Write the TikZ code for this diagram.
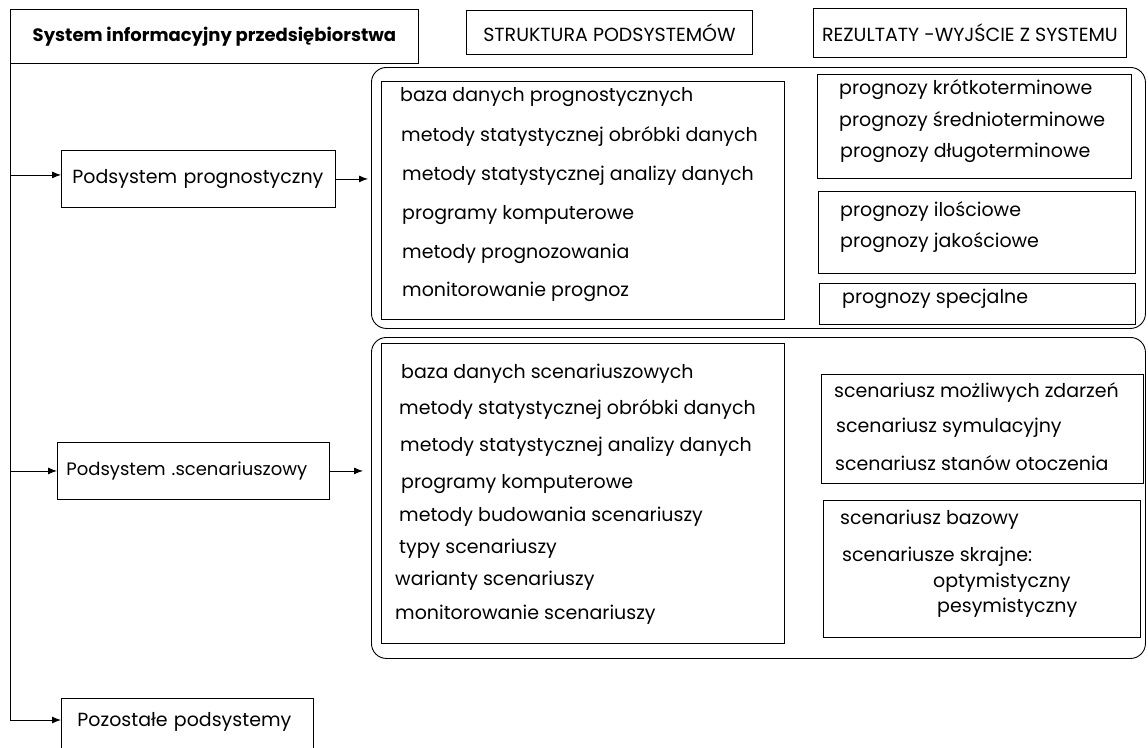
\documentclass[tikz,border=0pt]{standalone}
\usepackage{fontspec}
\setmainfont{Poppins}
\usepackage{tikz}
\usetikzlibrary{arrows.meta}
\tikzstyle{box} = [rectangle, draw=black, line width=0.9pt, anchor=north west, inner sep=0pt, font=\fontsize{19}{22}\selectfont]
\tikzstyle{subsystem} = [box, align=left, inner ysep=0pt]
\tikzstyle{group} = [rectangle, rounded corners=15pt, draw=black, line width=0.9pt, anchor=north west, inner sep=0pt]
\tikzstyle{item} = [anchor=west, inner sep=0pt, font=\fontsize{19}{22}\selectfont]
\tikzstyle{link} = [-{Latex[length=9pt, width=7pt]}, line width=0.9pt]

\begin{document}
\begin{tikzpicture}[x=1pt, y=-1pt]
\clip (0,0) rectangle (1148,747);
\fill[white] (0,0) rectangle (1148,747);

\node (title) [box, minimum width=408pt, minimum height=54pt, font=\fontsize{18}{21}\selectfont\bfseries] at (10,9) {System informacyjny przedsiębiorstwa};
\node (struktura) [box, minimum width=286pt, minimum height=44pt] at (466,10) {STRUKTURA PODSYSTEMÓW};
\node (rezultaty) [box, minimum width=313pt, minimum height=49pt] at (813,8) {REZULTATY -WYJŚCIE Z SYSTEMU};

\node (prog) [subsystem, text width=252pt, inner xsep=11pt, minimum height=57pt] at (61,150) {Podsystem prognostyczny};
\node (scen) [subsystem, text width=254pt, inner xsep=9pt, minimum height=57pt, font=\fontsize{18}{21}\selectfont] at (57,442) {\mbox{Podsystem .scenariuszowy}};
\node (pozostale) [subsystem, text width=220pt, inner xsep=16pt, text height=20pt, text depth=40pt, inner ysep=8pt] at (61,698) {Pozostałe podsystemy};

\node (progGroup) [group, minimum width=774pt, minimum height=261pt] at (371,67) {};
\node (progList) [box, minimum width=403pt, minimum height=238pt] at (381,81) {};
\node (progTerm) [box, minimum width=314pt, minimum height=104pt] at (817,74) {};
\node (progQual) [box, minimum width=317pt, minimum height=82pt] at (818,191) {};
\node (progSpec) [box, minimum width=316pt, minimum height=41pt] at (819,283) {};

\node (progL1) [item] at (400,97) {baza danych prognostycznych};
\node (progL2) [item] at (401,136) {metody statystycznej obróbki danych};
\node (progL3) [item] at (402,176) {metody statystycznej analizy danych};
\node (progL4) [item] at (402,215) {programy komputerowe};
\node (progL5) [item] at (402,254) {metody prognozowania};
\node (progL6) [item] at (402,292) {monitorowanie prognoz};

\node (progT1) [item] at (839,90) {prognozy krótkoterminowe};
\node (progT2) [item] at (839,122) {prognozy średnioterminowe};
\node (progT3) [item] at (840,153) {prognozy długoterminowe};
\node (progQ1) [item] at (840,212) {prognozy ilościowe};
\node (progQ2) [item] at (840,243) {prognozy jakościowe};
\node (progS1) [item] at (842,299) {prognozy specjalne};

\node (scenGroup) [group, minimum width=774pt, minimum height=321pt] at (371,337) {};
\node (scenList) [box, minimum width=403pt, minimum height=300pt] at (381,343) {};
\node (scenType) [box, minimum width=322pt, minimum height=109pt] at (821,374) {};
\node (scenBase) [box, minimum width=317pt, minimum height=137pt] at (823,500) {};

\node (scenL1) [item] at (401,374) {baza danych scenariuszowych};
\node (scenL2) [item] at (399,409) {metody statystycznej obróbki danych};
\node (scenL3) [item] at (400,447) {metody statystycznej analizy danych};
\node (scenL4) [item] at (401,484) {programy komputerowe};
\node (scenL5) [item] at (399,517) {metody budowania scenariuszy};
\node (scenL6) [item] at (399,549) {typy scenariuszy};
\node (scenL7) [item] at (395,581) {warianty scenariuszy};
\node (scenL8) [item] at (395,615) {monitorowanie scenariuszy};

\node (scenT1) [item] at (834,393) {scenariusz możliwych zdarzeń};
\node (scenT2) [item] at (836,428) {scenariusz symulacyjny};
\node (scenT3) [item] at (835,463) {scenariusz stanów otoczenia};
\node (scenB1) [item] at (840,520) {scenariusz bazowy};
\node (scenB2) [item] at (842,557) {scenariusze skrajne:};
\node (scenB3) [item] at (933,583) {optymistyczny};
\node (scenB4) [item] at (937,608) {pesymistyczny};

\draw[line width=0.9pt] (title.south west) -- ([yshift=-22pt]title.south west |- pozostale.north west);
\draw[link] ([yshift=4pt]title.south west |- prog.west) -- ([yshift=4pt]prog.west);
\draw[link] (title.south west |- scen.west) -- (scen.west);
\draw[link] ([yshift=-22pt]title.south west |- pozostale.north west) -- ([yshift=-22pt]pozostale.north west);
\draw[link, shorten >=3pt] (prog.east) -- (prog.east -| progGroup.west);
\draw[link, shorten >=8pt] (scen.east) -- (scen.east -| scenGroup.west);

\end{tikzpicture}
\end{document}
